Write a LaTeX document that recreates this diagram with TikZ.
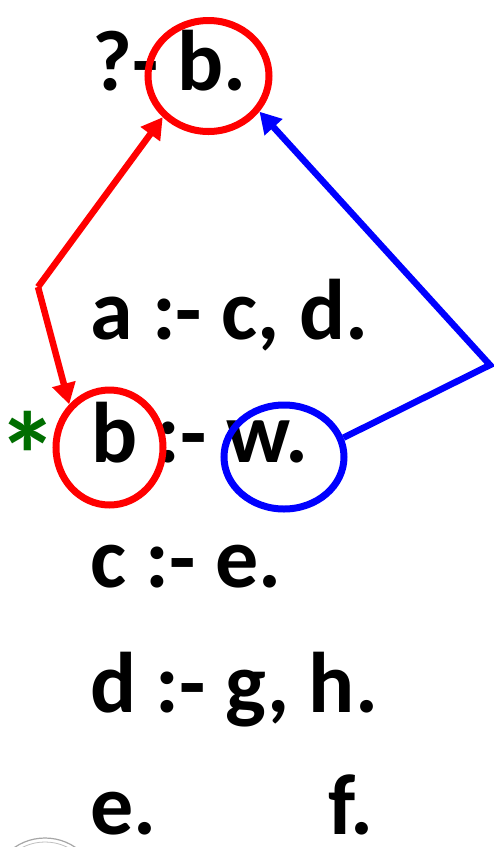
\documentclass[tikz,border=0pt]{standalone}
\usepackage{fontspec}
\setmainfont{Carlito}
\usetikzlibrary{shapes.geometric,arrows.meta}
\definecolor{stargreen}{RGB}{0,110,0}
\begin{document}
\begin{tikzpicture}[x=1pt,y=-1pt,
  txt/.style={anchor=base west, inner sep=0pt, font=\fontsize{86}{100}\selectfont\bfseries},
  ring/.style={ellipse, line width=7pt, inner sep=0pt},
  redring/.style={ring, draw=red},
  bluering/.style={ring, draw=blue},
  conn/.style={line width=6.5pt, -{Triangle[length=21pt,width=23pt]}},
  redconn/.style={conn, draw=red},
  blueconn/.style={conn, draw=blue}
]
\useasboundingbox (0,0) rectangle (494,847);
\clip (0,0) rectangle (494,847);
% logo remnant
\draw[gray!70, line width=1.2pt] (45,892) circle (54);
\draw[gray!50, line width=0.8pt] (45,892) circle (50);
% text
\node[txt] (q) at (92,90) {?- b.};
\node[txt] (la) at (90,339) {a :- c, d.};
\node[txt] (lb) at (91,462) {b :- w.};
\node[txt] (lc) at (90,587) {c :- e.};
\node[txt] (ld) at (90,712) {d :- g, h.};
\node[txt] (le) at (90,834) {e.};
\node[txt] (lf) at (328,834) {f.};
\node[anchor=center, inner sep=0pt, text=stargreen, font=\fontsize{122}{130}\selectfont\bfseries] (star) at (28,455) {*};
% rings
\node[redring, minimum width=121pt, minimum height=111pt] (topc) at (208.5,76) {};
\node[redring, minimum width=107pt, minimum height=115pt] (bc) at (109.5,447.5) {};
\node[bluering, minimum width=120pt, minimum height=104pt] (wc) at (284,457) {};
% connectors
\coordinate (rcorner) at (38,287);
\coordinate (bcorner) at (490,365);
\draw[redconn] (rcorner) -- (topc.222);
\draw[redconn] (rcorner) -- (bc.133);
\draw[blueconn] (wc.18) -- (bcorner) -- (topc.325);
\end{tikzpicture}
\end{document}
